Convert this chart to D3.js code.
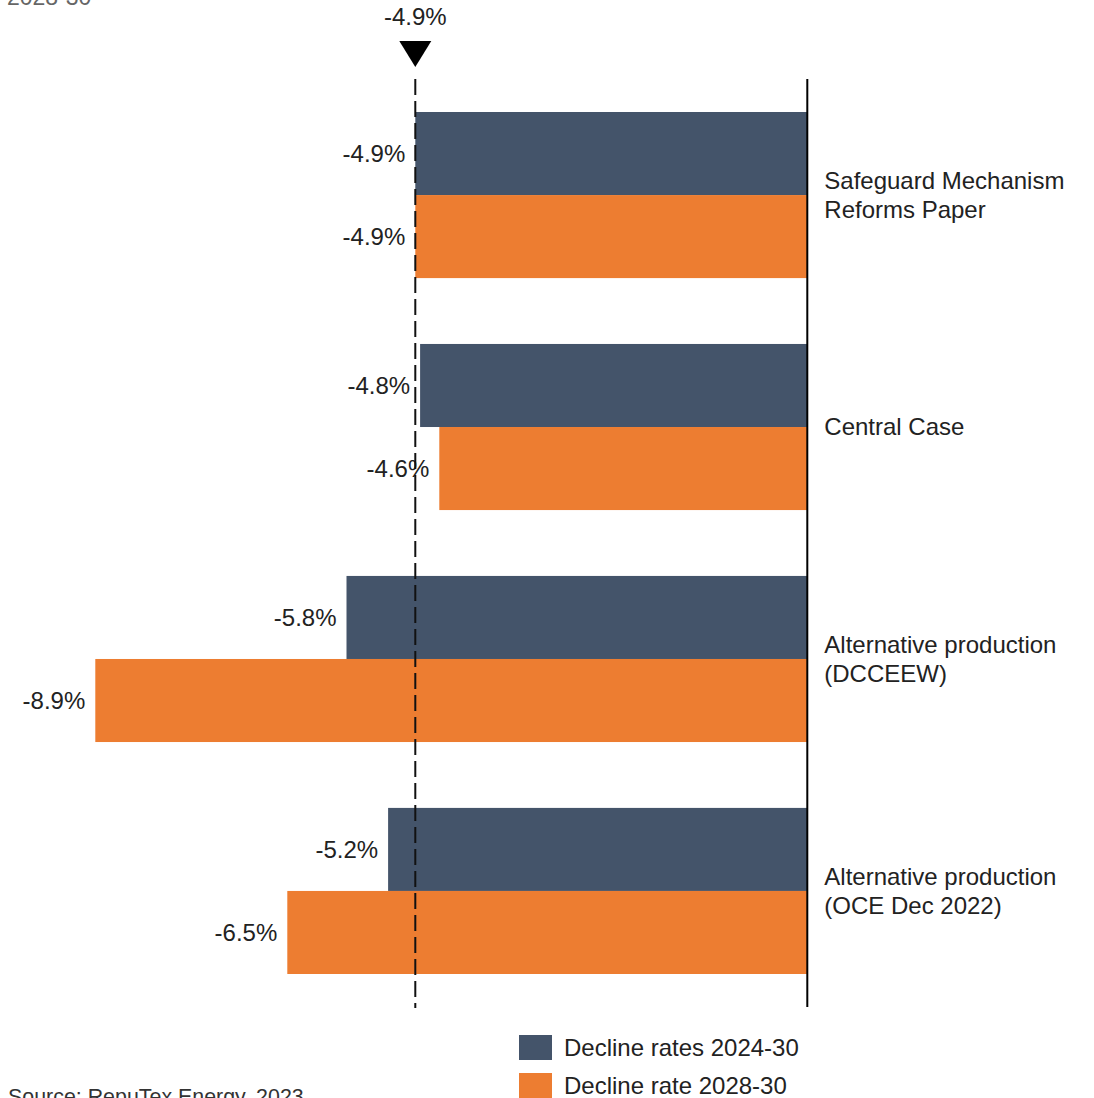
<!DOCTYPE html>
<html>
<head>
<meta charset="utf-8">
<script src="https://cdn.jsdelivr.net/npm/d3@7"></script>
<style>
  html, body { margin: 0; padding: 0; background: #fff; }
  svg { display: block; }
  text { font-family: "Liberation Sans", Arial, sans-serif; }
</style>
</head>
<body>
<svg id="chart" width="1094" height="1098"></svg>
<script>
// ---- Data ----
const categories = [
  ["Safeguard Mechanism", "Reforms Paper"],
  ["Central Case"],
  ["Alternative production", "(DCCEEW)"],
  ["Alternative production", "(OCE Dec 2022)"]
];
const seriesNames = ["Decline rates 2024-30", "Decline rate 2028-30"];
const decline2024_30 = [-4.9, -4.84, -5.76, -5.24];
const decline2028_30 = [-4.9, -4.6, -8.9, -6.5];
const referenceValue = -4.9;
const subtitleText = "2028-30";
const sourceText = "Source: RepuTex Energy, 2023";
const colors = ["#44546A", "#ED7D31"];

const fmt = v => d3.format(".1f")(v).replace("\u2212", "-") + "%";

// ---- Layout ----
const svg = d3.select("#chart");
const zeroX = 807.3, pxPerUnit = 80;

const x = d3.scaleLinear()
  .domain([-9, 0])
  .range([zeroX - 9 * pxPerUnit, zeroX]);

const catIdx = categories.map((d, i) => i);
const y = d3.scaleBand()
  .domain(catIdx)
  .range([112, 974])
  .paddingInner(0.284)
  .paddingOuter(0);

const ySub = d3.scaleBand()
  .domain([0, 1])
  .range([0, y.bandwidth()])
  .padding(0);

const seriesData = [decline2024_30, decline2028_30];

// subtitle (cut off at top, as in the reference)
svg.append("text")
  .attr("x", 7).attr("y", 5)
  .attr("fill", "#666")
  .attr("font-size", 23)
  .text(subtitleText);

// bars
seriesData.forEach((vals, s) => {
  svg.append("g").selectAll("rect")
    .data(vals)
    .join("rect")
    .attr("x", d => x(d))
    .attr("width", d => x(0) - x(d))
    .attr("y", (d, i) => y(i) + ySub(s))
    .attr("height", ySub.bandwidth())
    .attr("fill", colors[s]);

  svg.append("g").selectAll("text")
    .data(vals)
    .join("text")
    .attr("x", d => x(d) - 10)
    .attr("y", (d, i) => y(i) + ySub(s) + ySub.bandwidth() / 2)
    .attr("dy", "0.35em")
    .attr("text-anchor", "end")
    .attr("font-size", 24)
    .attr("fill", "#222")
    .text(d => fmt(d));
});

// zero axis line
svg.append("line")
  .attr("x1", x(0)).attr("x2", x(0))
  .attr("y1", 79).attr("y2", 1007)
  .attr("stroke", "#000").attr("stroke-width", 2);

// reference dashed line
const rx = x(referenceValue);
svg.append("line")
  .attr("x1", rx).attr("x2", rx)
  .attr("y1", 79).attr("y2", 1008)
  .attr("stroke", "#111").attr("stroke-width", 2)
  .attr("stroke-dasharray", "16,6");

// triangle marker
svg.append("path")
  .attr("d", `M${rx - 16},41 L${rx + 16},41 L${rx},67 Z`)
  .attr("fill", "#000");
svg.append("text")
  .attr("x", rx).attr("y", 25)
  .attr("text-anchor", "middle")
  .attr("font-size", 24)
  .attr("fill", "#222")
  .text(fmt(referenceValue));

// category labels
const catG = svg.append("g").selectAll("text")
  .data(categories)
  .join("text")
  .attr("x", x(0) + 17)
  .attr("y", (d, i) => y(i) + y.bandwidth() / 2)
  .attr("font-size", 24)
  .attr("fill", "#222");
catG.each(function(lines) {
  const t = d3.select(this);
  const lh = 29;
  const start = -(lines.length - 1) * lh / 2;
  lines.forEach((ln, k) => {
    t.append("tspan")
      .attr("x", x(0) + 17)
      .attr("y", +t.attr("y") + start + k * lh)
      .attr("dy", "0.35em")
      .text(ln);
  });
});

// legend
const leg = svg.append("g");
seriesNames.forEach((name, s) => {
  const ly = 1035 + s * 38;
  leg.append("rect")
    .attr("x", 519).attr("y", ly)
    .attr("width", 33).attr("height", 25)
    .attr("fill", colors[s]);
  leg.append("text")
    .attr("x", 564).attr("y", ly + 13)
    .attr("dy", "0.35em")
    .attr("font-size", 24)
    .attr("fill", "#222")
    .text(name);
});

// source (cut off at bottom, as in the reference)
svg.append("text")
  .attr("x", 8).attr("y", 1104)
  .attr("font-size", 21.4)
  .attr("fill", "#333")
  .text(sourceText);
</script>
</body>
</html>
